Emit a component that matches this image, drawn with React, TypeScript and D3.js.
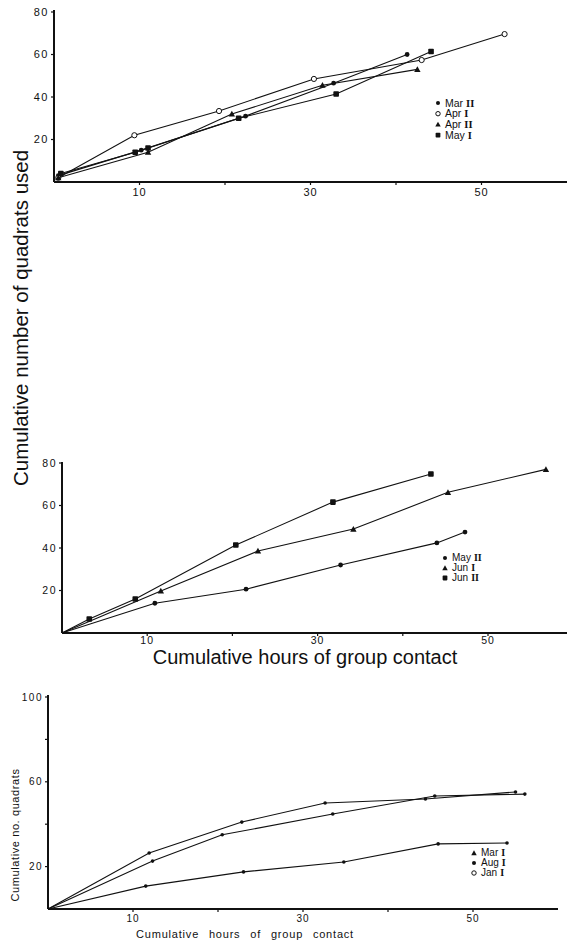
import React from "react";
import * as d3 from "d3";

// ---------- Data ----------
// Panel 1 (top)
const p1MarII = [[0.5, 3], [10.2, 15], [22.4, 31], [32.7, 46.5], [41.3, 60]];
const p1AprI = [[0.5, 2], [9.4, 22], [19.3, 33.4], [30.4, 48.5], [43, 57.4], [52.7, 69.6]];
const p1AprII = [[0.5, 2], [11, 14], [20.8, 32], [31.4, 45.5], [42.5, 53]];
const p1MayI = [[0.8, 4], [9.5, 14], [11, 16], [21.6, 30], [33, 41.4], [44.1, 61.4]];
const p1YTicks = [20, 40, 60, 80];
const p1XTicks = [10, 20, 30, 40, 50];
const p1XLabels = [10, 30, 50];

// Panel 2 (middle)
const p2MayII = [[0, 0], [10.9, 14], [21.6, 20.6], [32.7, 32], [44, 42.4], [47.3, 47.5]];
const p2JunI = [[0, 0], [11.6, 19.8], [23, 38.6], [34.2, 48.9], [45.3, 66.2], [56.8, 77]];
const p2JunII = [[0, 0], [3.2, 6.6], [8.6, 16], [20.4, 41.4], [31.8, 61.6], [43.3, 74.8]];
const p2YTicks = [20, 40, 60, 80];
const p2XTicks = [10, 20, 30, 40, 50];
const p2XLabels = [10, 30, 50];

// Panel 3 (bottom)
const p3MarI = [[0, 0], [11.5, 10.8], [23, 17.5], [34.8, 22.2], [45.9, 30.7], [54, 31.1]];
const p3AugI = [[0, 0], [11.9, 26.4], [22.8, 41], [32.6, 50], [44.4, 51.9], [55, 55.2]];
const p3JanI = [[0, 0], [12.3, 22.6], [20.5, 35], [33.5, 44.8], [45.5, 53.3], [56.1, 54.2]];
const p3YTicks = [20, 40, 60, 80, 100];
const p3YLabels = [20, 60, 100];
const p3XTicks = [10, 20, 30, 40, 50];
const p3XLabels = [10, 30, 50];

type Series = { name: string; numeral: string; data: number[][]; marker: string };

const panels = [
  {
    x0: 54, y0: 182, xEnd: 567, yTop: 10, pxPerX: 8.55, pxPerY: 2.125,
    yTicks: p1YTicks, yLabels: p1YTicks, xTicks: p1XTicks, xLabels: p1XLabels, font: 11, xLabelDy: 14,
    series: [
      { name: "Mar", numeral: "II", data: p1MarII, marker: "dot" },
      { name: "Apr", numeral: "I", data: p1AprI, marker: "open" },
      { name: "Apr", numeral: "II", data: p1AprII, marker: "tri" },
      { name: "May", numeral: "I", data: p1MayI, marker: "square" },
    ] as Series[],
    legend: { x: 438, y: 103, dy: 10.7, font: 10.5 },
  },
  {
    x0: 62, y0: 633, xEnd: 567, yTop: 462, pxPerX: 8.52, pxPerY: 2.125,
    yTicks: p2YTicks, yLabels: p2YTicks, xTicks: p2XTicks, xLabels: p2XLabels, font: 10.5, xLabelDy: 11,
    series: [
      { name: "May", numeral: "II", data: p2MayII, marker: "dot" },
      { name: "Jun", numeral: "I", data: p2JunI, marker: "tri" },
      { name: "Jun", numeral: "II", data: p2JunII, marker: "square" },
    ] as Series[],
    legend: { x: 445, y: 558, dy: 10, font: 10 },
  },
  {
    x0: 48, y0: 909, xEnd: 558, yTop: 695, pxPerX: 8.5, pxPerY: 2.12,
    yTicks: p3YTicks, yLabels: p3YLabels, xTicks: p3XTicks, xLabels: p3XLabels, font: 10, xLabelDy: 13,
    series: [
      { name: "Mar", numeral: "I", data: p3MarI, marker: "small" },
      { name: "Aug", numeral: "I", data: p3AugI, marker: "small" },
      { name: "Jan", numeral: "I", data: p3JanI, marker: "small" },
    ] as Series[],
    legendMarkers: ["tri", "dot", "open"],
    legend: { x: 474, y: 853, dy: 10, font: 10 },
  },
];

function Marker({ type, x, y, scale = 1 }: { type: string; x: number; y: number; scale?: number }) {
  if (type === "dot") return <circle cx={x} cy={y} r={2.4 * scale} fill="#111" />;
  if (type === "small") return <circle cx={x} cy={y} r={1.8 * scale} fill="#111" />;
  if (type === "open") return <circle cx={x} cy={y} r={2.6 * scale} fill="#fff" stroke="#111" strokeWidth={1} />;
  if (type === "tri") {
    const s = 3.2 * scale;
    return <path d={`M${x},${y - s} L${x + s},${y + s * 0.8} L${x - s},${y + s * 0.8} Z`} fill="#111" />;
  }
  const s = 2.8 * scale;
  return <rect x={x - s} y={y - s} width={2 * s} height={2 * s} rx={0.8} fill="#111" />;
}

export default function App() {
  const font = "'Liberation Sans', Arial, sans-serif";
  return (
    <svg width={567} height={943} style={{ position: "absolute", left: 0, top: 0, background: "#fff" }}>
      <rect width={567} height={943} fill="#fff" />
      {panels.map((p, pi) => {
        const xMax = (p.xEnd - p.x0) / p.pxPerX;
        const yMax = (p.y0 - p.yTop) / p.pxPerY;
        const x = d3.scaleLinear().domain([0, xMax]).range([p.x0, p.xEnd]);
        const y = d3.scaleLinear().domain([0, yMax]).range([p.y0, p.yTop]);
        const line = d3.line<number[]>().x((d) => x(d[0])).y((d) => y(d[1]));
        const legendMarkers = (p as any).legendMarkers as string[] | undefined;
        return (
          <g key={pi}>
            {/* axes */}
            <line x1={p.x0} y1={p.y0} x2={p.xEnd} y2={p.y0} stroke="#111" strokeWidth={2} />
            <line x1={p.x0} y1={p.y0} x2={p.x0} y2={p.yTop} stroke="#111" strokeWidth={2} />
            {p.yTicks.map((t) => (
              <line key={"yt" + t} x1={p.x0 - 3} x2={p.x0} y1={y(t)} y2={y(t)} stroke="#111" strokeWidth={1.2} />
            ))}
            {p.yLabels.map((t) => (
              <text key={"yl" + t} x={p.x0 - 5} y={y(t)} dy="0.35em" textAnchor="end" fontFamily={font}
                fontSize={p.font} letterSpacing={1.5} fill="#111">{t}</text>
            ))}
            {p.xTicks.map((t) => (
              <line key={"xt" + t} x1={x(t)} x2={x(t)} y1={p.y0} y2={p.y0 + 3} stroke="#111" strokeWidth={1.2} />
            ))}
            {p.xLabels.map((t) => (
              <text key={"xl" + t} x={x(t)} y={p.y0 + p.xLabelDy} textAnchor="middle" fontFamily={font}
                fontSize={p.font} letterSpacing={1} fill="#111">{t}</text>
            ))}
            {/* series */}
            {p.series.map((s, si) => (
              <g key={si}>
                <path d={line(s.data) || ""} fill="none" stroke="#111" strokeWidth={1.1} />
                {s.data.map((d, di) =>
                  d[0] === 0 && d[1] === 0 ? null : (
                    <Marker key={di} type={s.marker} x={x(d[0])} y={y(d[1])} />
                  )
                )}
              </g>
            ))}
            {/* legend */}
            {p.series.map((s, si) => {
              const ly = p.legend.y + si * p.legend.dy;
              const mk = legendMarkers ? legendMarkers[si] : s.marker;
              return (
                <g key={"lg" + si}>
                  <Marker type={mk} x={p.legend.x} y={ly} scale={0.85} />
                  <text x={p.legend.x + 7} y={ly + p.legend.font * 0.34} fontFamily={font}
                    fontSize={p.legend.font} fill="#111">
                    {s.name}
                    <tspan fontFamily="'Liberation Serif', serif" fontWeight="bold" dx={3}>{s.numeral}</tspan>
                  </text>
                </g>
              );
            })}
          </g>
        );
      })}
      {/* shared y label for top two panels */}
      <text transform="translate(28,318) rotate(-90)" textAnchor="middle" fontFamily={font} fontSize={20.5}
        fill="#111">Cumulative number of quadrats used</text>
      {/* middle x label */}
      <text x={305} y={664} textAnchor="middle" fontFamily={font} fontSize={20} fill="#111">
        Cumulative hours of group contact
      </text>
      {/* bottom labels */}
      <text transform="translate(19,835) rotate(-90)" textAnchor="middle" fontFamily={font} fontSize={11}
        letterSpacing={0.6} fill="#111">Cumulative no. quadrats</text>
      <text x={245} y={938} textAnchor="middle" fontFamily={font} fontSize={11} letterSpacing={0.8}
        wordSpacing={6} fill="#111">Cumulative hours of group contact</text>
    </svg>
  );
}
